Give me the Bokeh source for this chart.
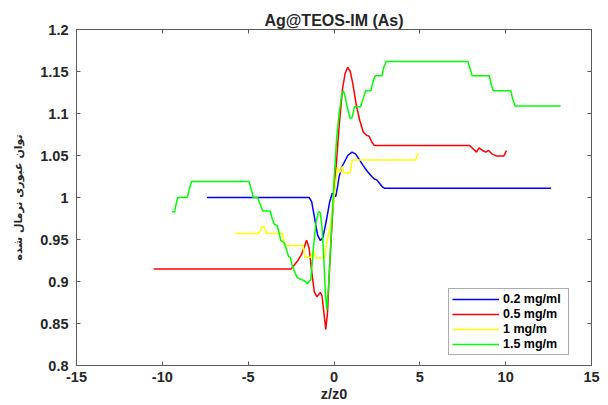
from bokeh.plotting import figure
from bokeh.models import LinearAxis, FixedTicker, CustomJSTickFormatter, Range1d
from bokeh.embed import file_html
from bokeh.resources import INLINE

# ---------------- data ----------------
title_text = "Ag@TEOS-IM (As)"
x_label_text = "z/z0"
y_label_text = "توان عبوری نرمال شده"
x_ticks = [-15, -10, -5, 0, 5, 10, 15]
y_ticks = [0.8, 0.85, 0.9, 0.95, 1.0, 1.05, 1.1, 1.15, 1.2]

name_02 = "0.2 mg/ml"
x_02 = [-7.4, -1.45, -1.3, -1.1, -0.95, -0.8, -0.65, -0.45, -0.25, -0.1, 0.0, 0.1,
        0.2, 0.3, 0.45, 0.6, 0.8, 1.05, 1.25, 1.45, 1.7, 1.95, 2.2, 2.35, 2.5,
        2.65, 2.8, 2.95, 12.65]
y_02 = [1.0, 1.0, 0.995, 0.972, 0.955, 0.949, 0.952, 0.972, 0.995, 1.005, 1.004,
        1.001, 1.012, 1.025, 1.036, 1.042, 1.05, 1.054, 1.052, 1.046, 1.038,
        1.031, 1.025, 1.022, 1.021, 1.017, 1.013, 1.011, 1.011]

name_05 = "0.5 mg/m"
x_05 = [-10.5, -2.5, -2.3, -2.1, -1.9, -1.75, -1.6, -1.45, -1.3, -1.15, -1.0,
        -0.9, -0.8, -0.7, -0.6, -0.48, -0.38, -0.25, -0.1, 0.1, 0.3, 0.5, 0.65,
        0.8, 0.95, 1.1, 1.3, 1.5, 1.7, 1.9, 2.05, 2.2, 2.35, 7.9, 8.1, 8.3,
        8.45, 8.65, 8.85, 9.0, 9.2, 9.45, 9.9, 10.05]
y_05 = [0.915, 0.915, 0.92, 0.925, 0.932, 0.94, 0.949, 0.94, 0.912, 0.888, 0.882,
        0.884, 0.887, 0.883, 0.865, 0.843, 0.862, 0.92, 0.975, 1.03, 1.085, 1.13,
        1.148, 1.155, 1.15, 1.135, 1.11, 1.092, 1.078, 1.074, 1.073, 1.066,
        1.062, 1.062, 1.058, 1.054, 1.059, 1.056, 1.054, 1.056, 1.052, 1.0495,
        1.0495, 1.056]

name_1 = "1 mg/m"
x_1 = [-5.75, -4.4, -4.3, -4.2, -4.05, -3.95, -2.98, -2.88, -1.8, -1.7, -1.35,
       -1.2, -1.05, -0.55, -0.4, -0.2, 0.0, 0.2, 0.35, 0.48, 0.58, 0.95, 1.05,
       4.75, 4.9]
y_1 = [0.957, 0.957, 0.96, 0.965, 0.965, 0.957, 0.957, 0.943, 0.943, 0.929,
       0.929, 0.937, 0.928, 0.928, 0.949, 0.967, 1.0, 1.036, 1.03, 1.037, 1.029,
       1.03, 1.0445, 1.0445, 1.053]

name_15 = "1.5 mg/m"
x_15 = [-9.45, -9.28, -9.2, -9.1, -8.55, -8.4, -8.3, -4.95, -4.85, -4.7, -4.45,
        -4.3, -4.15, -3.72, -3.6, -3.5, -3.3, -3.2, -3.1, -2.9, -2.8, -2.65,
        -2.55, -2.45, -2.3, -2.15, -2.0, -1.85, -1.65, -1.55, -1.45, -1.35,
        -1.2, -1.05, -0.9, -0.8, -0.7, -0.6, -0.5, -0.42, -0.3, -0.15, 0.0,
        0.15, 0.3, 0.45, 0.55, 0.65, 0.8, 0.95, 1.05, 1.2, 1.55, 1.7, 1.85,
        2.15, 2.25, 2.4, 2.8, 2.9, 3.05, 7.8, 7.9, 8.05, 9.05, 9.15, 9.28,
        10.3, 10.4, 10.55, 13.2]
y_15 = [0.983, 0.983, 0.992, 1.0, 1.0, 1.012, 1.019, 1.019, 1.012, 1.0, 1.0,
        0.992, 0.984, 0.984, 0.975, 0.969, 0.966, 0.958, 0.949, 0.946, 0.94,
        0.93, 0.929, 0.92, 0.912, 0.905, 0.903, 0.902, 0.9, 0.897, 0.9, 0.902,
        0.94, 0.97, 0.983, 0.982, 0.965, 0.93, 0.885, 0.866, 0.9, 0.96, 1.02,
        1.07, 1.1, 1.122, 1.127, 1.12, 1.105, 1.094, 1.095, 1.108, 1.108, 1.118,
        1.127, 1.127, 1.136, 1.145, 1.145, 1.155, 1.162, 1.162, 1.155, 1.145,
        1.145, 1.135, 1.127, 1.127, 1.118, 1.109, 1.109]

series = [
    (name_02, x_02, y_02, "#0000FF"),
    (name_05, x_05, y_05, "#FF0000"),
    (name_1, x_1, y_1, "#FFFF00"),
    (name_15, x_15, y_15, "#00FF00"),
]

# ---------------- figure ----------------
FONT = "Liberation Sans"
AX_COLOR = "#5a5a5a"
TXT_COLOR = "#262626"

p = figure(width=608, height=405, x_range=Range1d(-15, 15), y_range=Range1d(0.8, 1.2),
           output_backend="svg", toolbar_location=None,
           min_border_left=76, min_border_right=17, min_border_top=29,
           min_border_bottom=40, background_fill_color="white",
           border_fill_color="white", outline_line_color=AX_COLOR)
p.xgrid.visible = False
p.ygrid.visible = False

for name, xs, ys, col in series:
    p.line(xs, ys, line_color=col, line_width=1.5, legend_label=name)

yfmt = CustomJSTickFormatter(code="return String(parseFloat(tick.toFixed(2)));")
xfmt = CustomJSTickFormatter(code="return String(tick);")
blank = CustomJSTickFormatter(code="return '';")


def style(ax, ticks, fmt, show_labels):
    ax.ticker = FixedTicker(ticks=ticks)
    ax.formatter = fmt if show_labels else blank
    ax.axis_line_color = AX_COLOR
    ax.major_tick_line_color = AX_COLOR
    ax.major_tick_in = 4
    ax.major_tick_out = 0
    ax.minor_tick_line_color = None
    ax.major_label_text_font = FONT
    ax.major_label_text_font_style = "bold"
    ax.major_label_text_color = TXT_COLOR
    if show_labels:
        ax.major_label_text_font_size = "14.5px"
    else:
        ax.major_label_text_font_size = "0px"
        ax.major_label_standoff = 0


style(p.xaxis[0], x_ticks, xfmt, True)
style(p.yaxis[0], y_ticks, yfmt, True)
p.xaxis[0].major_label_standoff = 6
p.yaxis[0].major_label_standoff = 8

p.xaxis[0].axis_label = x_label_text
p.xaxis[0].axis_label_text_font = FONT
p.xaxis[0].axis_label_text_font_style = "bold"
p.xaxis[0].axis_label_text_font_size = "14.5px"
p.xaxis[0].axis_label_text_color = TXT_COLOR
p.xaxis[0].axis_label_standoff = 1

p.yaxis[0].axis_label = y_label_text
p.yaxis[0].axis_label_text_font = "DejaVu Sans"
p.yaxis[0].axis_label_text_font_style = "bold"
p.yaxis[0].axis_label_text_font_size = "11px"
p.yaxis[0].axis_label_text_color = TXT_COLOR
p.yaxis[0].axis_label_standoff = 12

top_ax = LinearAxis()
right_ax = LinearAxis()
style(top_ax, x_ticks, xfmt, False)
style(right_ax, y_ticks, yfmt, False)
p.add_layout(top_ax, "above")
p.add_layout(right_ax, "right")

p.title.text = title_text
p.title.align = "center"
p.title.text_font = FONT
p.title.text_font_style = "bold"
p.title.text_font_size = "16px"
p.title.text_color = TXT_COLOR
p.title.standoff = 2

lg = p.legend[0]
lg.location = (372, 10)
lg.border_line_color = AX_COLOR
lg.border_line_width = 1
lg.background_fill_color = "white"
lg.background_fill_alpha = 1.0
lg.padding = 3
lg.spacing = 1
lg.margin = 0
lg.glyph_width = 47
lg.glyph_height = 14
lg.label_height = 14
lg.label_width = 62
lg.label_standoff = 4
lg.label_text_font = FONT
lg.label_text_font_style = "bold"
lg.label_text_font_size = "12.5px"
lg.label_text_color = "black"

open("out.html", "w").write(file_html(p, INLINE))
